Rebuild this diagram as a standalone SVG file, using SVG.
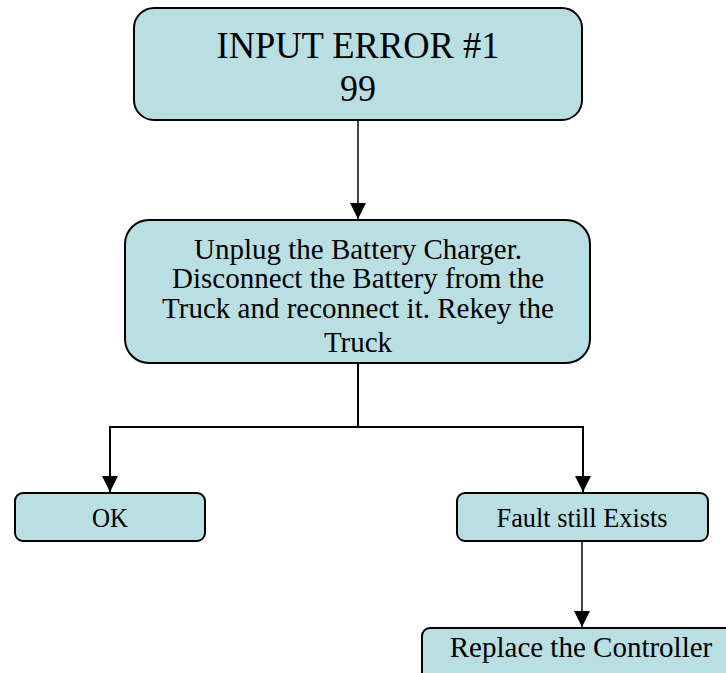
<svg xmlns="http://www.w3.org/2000/svg" width="726" height="673" viewBox="0 0 726 673">
<style>
.box{fill:#B9DFE3;stroke:#000;stroke-width:2}
.t{font-family:"Liberation Serif","Times New Roman",serif;fill:#000;text-anchor:middle}
.c{fill:none;stroke:#000;stroke-width:2}
.g{stroke:#444}
</style>
<defs>
<marker id="ah" markerUnits="userSpaceOnUse" markerWidth="16" markerHeight="16" viewBox="0 0 16 16" refX="16" refY="8" orient="auto">
<path d="M0,0 L16,8 L0,16 Z" fill="#000"/>
</marker>
</defs>
<rect width="726" height="673" fill="#fff"/>
<g id="connectors">
<path class="c g" d="M358,120 V219" marker-end="url(#ah)"/>
<path class="c" d="M358,363 V427 H110 V492" marker-end="url(#ah)"/>
<path class="c" d="M358,427 H583 V492" marker-end="url(#ah)"/>
<path class="c g" d="M582,541 V627" marker-end="url(#ah)"/>
</g>
<g id="n1">
<rect class="box" x="134" y="8" width="448" height="112" rx="20"/>
<text class="t" font-size="38" x="358" y="58" textLength="283" lengthAdjust="spacingAndGlyphs">INPUT ERROR #1</text>
<text class="t" font-size="38" x="358" y="101" textLength="36" lengthAdjust="spacingAndGlyphs">99</text>
</g>
<g id="n2">
<rect class="box" x="125" y="220" width="465" height="143" rx="24"/>
<g class="t" font-size="29">
<text x="358" y="259">Unplug the Battery Charger.</text>
<text x="358" y="288">Disconnect the Battery from the</text>
<text x="358" y="318">Truck and reconnect it. Rekey the</text>
<text x="358" y="352">Truck</text>
</g>
</g>
<g id="n3">
<rect class="box" x="15" y="493" width="190" height="48" rx="8"/>
<text class="t" font-size="27" x="110" y="527" textLength="36" lengthAdjust="spacingAndGlyphs">OK</text>
</g>
<g id="n4">
<rect class="box" x="457" y="493" width="251" height="48" rx="8"/>
<text class="t" font-size="28" x="582" y="527" textLength="171" lengthAdjust="spacingAndGlyphs">Fault still Exists</text>
</g>
<g id="n5">
<rect class="box" x="422" y="628" width="320" height="52" rx="8"/>
<text class="t" font-size="29" x="581" y="657">Replace the Controller</text>
</g>
</svg>
